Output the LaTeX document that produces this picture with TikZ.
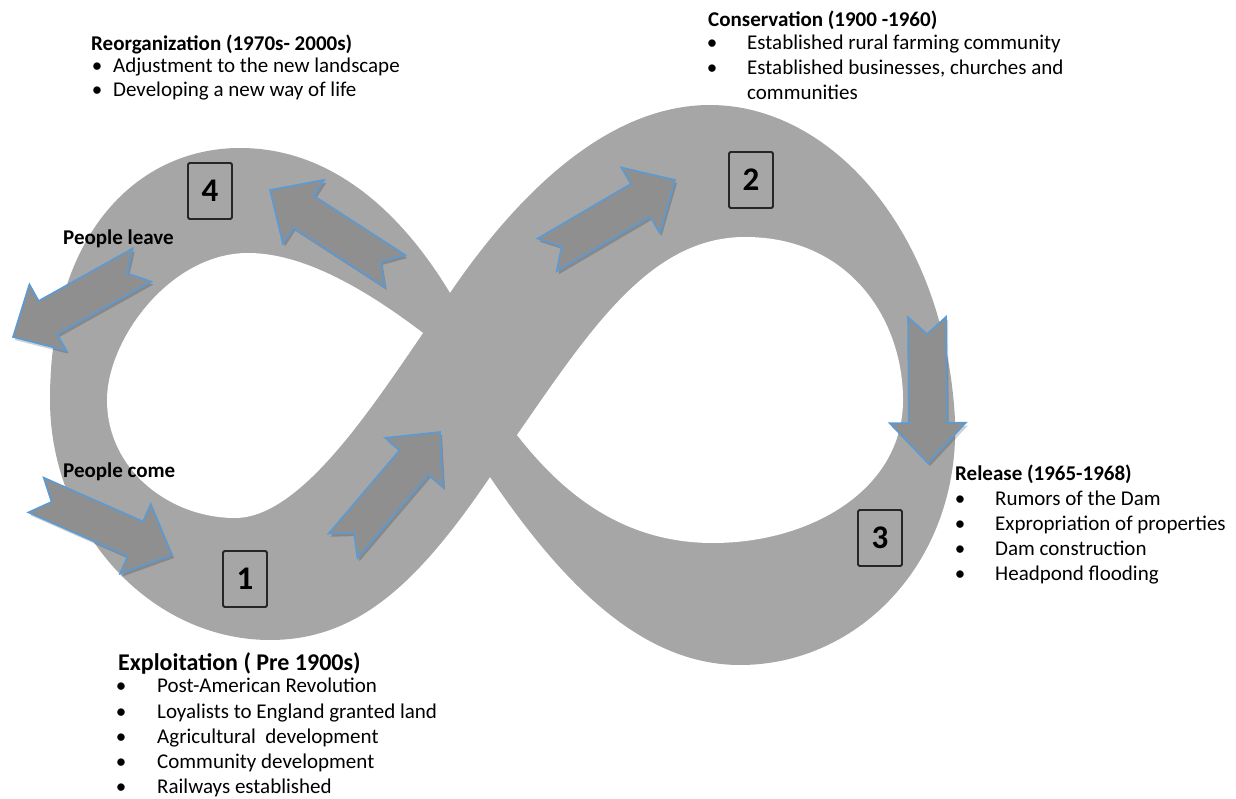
\documentclass[tikz,border=0pt]{standalone}
\usepackage{fontspec}
\setmainfont{Carlito}
\usetikzlibrary{calc}
\definecolor{bandgray}{HTML}{A6A6A6}
\definecolor{arrgray}{HTML}{8F8F8F}
\definecolor{arrblue}{HTML}{5B9BD5}
\tikzset{
 band/.style={fill=bandgray},
 hole/.style={fill=white},
 blockarr/.style={fill=arrgray, draw=arrblue, line width=1.6pt, line join=miter},
 arrshadow/.style={fill=black, opacity=0.18},
 numbox/.style={draw=black!85, line width=1.8pt, rounded corners=1.5pt, minimum width=44pt, minimum height=56pt, inner sep=0pt, font=\fontsize{33}{33}\selectfont\bfseries},
 head/.style={anchor=base west, inner sep=0pt, font=\fontsize{21}{25}\selectfont\bfseries},
 bighead/.style={anchor=base west, inner sep=0pt, font=\fontsize{24}{28}\selectfont\bfseries},
 item/.style={anchor=base west, inner sep=0pt, font=\fontsize{21}{25}\selectfont},
 bull/.style={anchor=base, inner sep=0pt, font=\fontsize{21}{25}\selectfont},
}
\newcommand\blockarrow[4]{%
 \pgfmathsetmacro\bdx{#3-#1}%
 \pgfmathsetmacro\bdy{#4-#2}%
 \pgfmathsetmacro\bang{atan2(-\bdy,\bdx)}%
 \pgfmathsetmacro\blen{veclen(\bdx,\bdy)}%
 \begin{scope}[shift={(#1+2,#2+3)},rotate=\bang]
  \fill[arrshadow] (0,-19) -- (\blen-40,-19) -- (\blen-40,-38) -- (\blen,0) -- (\blen-40,38) -- (\blen-40,19) -- (0,19) -- (17,0) -- cycle;
 \end{scope}
 \begin{scope}[shift={(#1,#2)},rotate=\bang]
  \draw[blockarr] (0,-19) -- (\blen-40,-19) -- (\blen-40,-38) -- (\blen,0) -- (\blen-40,38) -- (\blen-40,19) -- (0,19) -- (17,0) -- cycle;
 \end{scope}}
\begin{document}
\begin{tikzpicture}[x=1pt,y=-1pt]
\useasboundingbox (0,0) rectangle (1236,799);
% band (outer outline of the figure eight)
\fill[band] (450,293) .. controls (520,190) and (610,105) .. (710,105)
 .. controls (830,105) and (945,230) .. (955,420)
 .. controls (960,560) and (860,665) .. (740,665)
 .. controls (640,665) and (560,580) .. (490,477)
 .. controls (420,580) and (360,640) .. (270,640)
 .. controls (150,640) and (50,530) .. (50,400)
 .. controls (50,230) and (140,148) .. (240,148)
 .. controls (330,148) and (400,210) .. (450,293) -- cycle;
% holes
\fill[hole] (517,435) .. controls (590,330) and (650,237) .. (745,237)
 .. controls (850,237) and (903,320) .. (903,400)
 .. controls (903,490) and (810,543) .. (713,543)
 .. controls (620,543) and (560,490) .. (517,435) -- cycle;
\fill[hole] (423,333) .. controls (360,285) and (300,253) .. (248,253)
 .. controls (170,253) and (107,340) .. (107,400)
 .. controls (107,470) and (170,518) .. (235,518)
 .. controls (300,518) and (370,410) .. (423,333) -- cycle;
% block arrows
\blockarrow{142}{265}{13}{337}
\blockarrow{395}{271}{270}{190}
\blockarrow{547}{255}{675}{180}
\blockarrow{927}{317}{928}{463}
\blockarrow{343}{546}{440}{432}
\blockarrow{36}{495}{172}{555}
% number boxes
\node[numbox] (n4) at (210,191) {4};
\node[numbox] (n1) at (245,579) {1};
\node[numbox] (n2) at (751,180) {2};
\node[numbox] (n3) at (880,538) {3};
% labels
\node[head] (leave) at (63,245) {People leave};
\node[head] (come) at (63,477) {People come};
% Reorganization
\node[head] (reoh) at (91,51) {Reorganization (1970s- 2000s)};
\node[bull] (reob1) at (97,73) {\textbullet};
\node[item] (reo1) at (113,73) {Adjustment to the new landscape};
\node[bull] (reob2) at (97,97) {\textbullet};
\node[item] (reo2) at (113,97) {Developing a new way of life};
% Conservation
\node[head] (conh) at (708,27) {Conservation (1900 -1960)};
\node[bull] (conb1) at (712,50) {\textbullet};
\node[item] (con1) at (747,50) {Established rural farming community};
\node[bull] (conb2) at (712,75) {\textbullet};
\node[item] (con2) at (747,75) {Established businesses, churches and};
\node[item] (con3) at (747,100) {communities};
% Release
\node[head] (relh) at (955,480) {Release (1965-1968)};
\node[bull] (relb1) at (960,505) {\textbullet};
\node[item] (rel1) at (995,505) {Rumors of the Dam};
\node[bull] (relb2) at (960,530) {\textbullet};
\node[item] (rel2) at (995,530) {Expropriation of properties};
\node[bull] (relb3) at (960,555) {\textbullet};
\node[item] (rel3) at (995,555) {Dam construction};
\node[bull] (relb4) at (960,580) {\textbullet};
\node[item] (rel4) at (995,580) {Headpond flooding};
% Exploitation
\node[bighead] (exph) at (118,670) {Exploitation ( Pre 1900s)};
\node[bull] (expb1) at (121,692) {\textbullet};
\node[item] (exp1) at (157,692) {Post-American Revolution};
\node[bull] (expb2) at (121,718) {\textbullet};
\node[item] (exp2) at (157,718) {Loyalists to England granted land};
\node[bull] (expb3) at (121,743) {\textbullet};
\node[item] (exp3) at (157,743) {Agricultural\ \ development};
\node[bull] (expb4) at (121,768) {\textbullet};
\node[item] (exp4) at (157,768) {Community development};
\node[bull] (expb5) at (121,793) {\textbullet};
\node[item] (exp5) at (157,793) {Railways established};
\end{tikzpicture}
\end{document}
